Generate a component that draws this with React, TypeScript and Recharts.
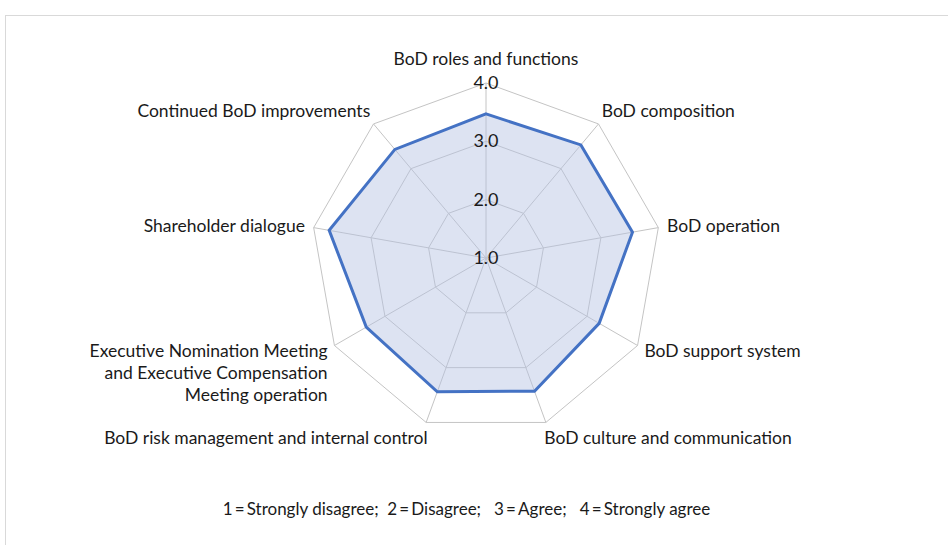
import { RadarChart, Radar, PolarGrid, PolarAngleAxis, PolarRadiusAxis } from "recharts";

// board evaluation scores, 1-4 scale
const categories = [
  "BoD roles and functions",
  "BoD composition",
  "BoD operation",
  "BoD support system",
  "BoD culture and communication",
  "BoD risk management and internal control",
  "Executive Nomination Meeting\nand Executive Compensation\nMeeting operation",
  "Shareholder dialogue",
  "Continued BoD improvements",
];
const scores = [3.47, 3.53, 3.55, 3.24, 3.43, 3.44, 3.37, 3.73, 3.43];
const radiusTicks = [1, 2, 3, 4];
const scaleNote = "1\u2009=\u2009Strongly disagree;  2\u2009=\u2009Disagree;   3\u2009=\u2009Agree;   4\u2009=\u2009Strongly agree";

const data = categories.map((name, i) => ({ name, score: scores[i] }));

const W = 948;
const H = 545;
const CX = 486;
const CY = 258;
const R = 175;
const FONT = "Lato, 'Open Sans', sans-serif";

function AngleTick(props: any) {
  const { x, y, payload } = props;
  const dx = x - CX;
  const dy = y - CY;
  const len = Math.hypot(dx, dy) || 1;
  const ux = dx / len;
  const uy = dy / len;
  const vx = CX + ux * R;
  const vy = CY + uy * R;
  const anchor = ux > 0.2 ? "start" : ux < -0.2 ? "end" : "middle";
  const tx = anchor === "middle" ? vx : vx + Math.sign(ux) * (Math.abs(ux) * 16 - 7);
  let ty = uy > 0 ? vy + uy * uy * 16 : vy + uy * 17.6;
  if (anchor === "middle" && uy < 0) ty = vy - 25;
  const lines = String(payload.value).split("\n");
  return (
    <text
      x={tx}
      y={ty}
      textAnchor={anchor}
      dominantBaseline="central"
      fill="#1a1a1a"
      fontSize={17.5}
      fontFamily={FONT}
    >
      {lines.map((l, i) => (
        <tspan key={i} x={tx} dy={i === 0 ? 0 : 22}>
          {l}
        </tspan>
      ))}
    </text>
  );
}

function RadiusTick(props: any) {
  const { x, y, payload } = props;
  return (
    <text
      x={x}
      y={y}
      dy={-1}
      textAnchor="middle"
      dominantBaseline="central"
      fill="#1a1a1a"
      fontSize={18}
      fontFamily={FONT}
    >
      {Number(payload.value).toFixed(1)}
    </text>
  );
}

export default function App() {
  return (
    <div
      style={{
        position: "absolute",
        left: 0,
        top: 0,
        width: W,
        height: H,
        background: "#fff",
        overflow: "hidden",
        fontFamily: FONT,
      }}
    >
      <div
        style={{
          position: "absolute",
          left: 5,
          top: 15,
          width: W,
          height: H,
          border: "1px solid #d9d9d9",
        }}
      />
      <div style={{ position: "absolute", left: 0, top: 0 }}>
        <RadarChart
          width={W}
          height={H}
          data={data}
          cx={CX}
          cy={CY}
          outerRadius={R}
          startAngle={90}
          endAngle={-270}
          margin={{ top: 0, right: 0, bottom: 0, left: 0 }}
        >
          <PolarGrid gridType="polygon" stroke="#c4c4c4" strokeWidth={1} />
          <PolarAngleAxis
            dataKey="name"
            tick={<AngleTick />}
            tickLine={false}
            axisLine={false}
          />
          <Radar
            dataKey="score"
            stroke="#4472c4"
            strokeWidth={3}
            fill="#b4c2e3"
            fillOpacity={0.45}
            dot={false}
            isAnimationActive={false}
          />
          <PolarRadiusAxis
            angle={90}
            domain={[1, 4]}
            ticks={radiusTicks}
            axisLine={false}
            tickLine={false}
            tick={<RadiusTick />}
          />
        </RadarChart>
      </div>
      <div
        style={{
          position: "absolute",
          left: 0,
          width: 933,
          top: 498,
          textAlign: "center",
          whiteSpace: "pre",
          fontSize: 17,
          color: "#1a1a1a",
        }}
      >
        {scaleNote}
      </div>
    </div>
  );
}
